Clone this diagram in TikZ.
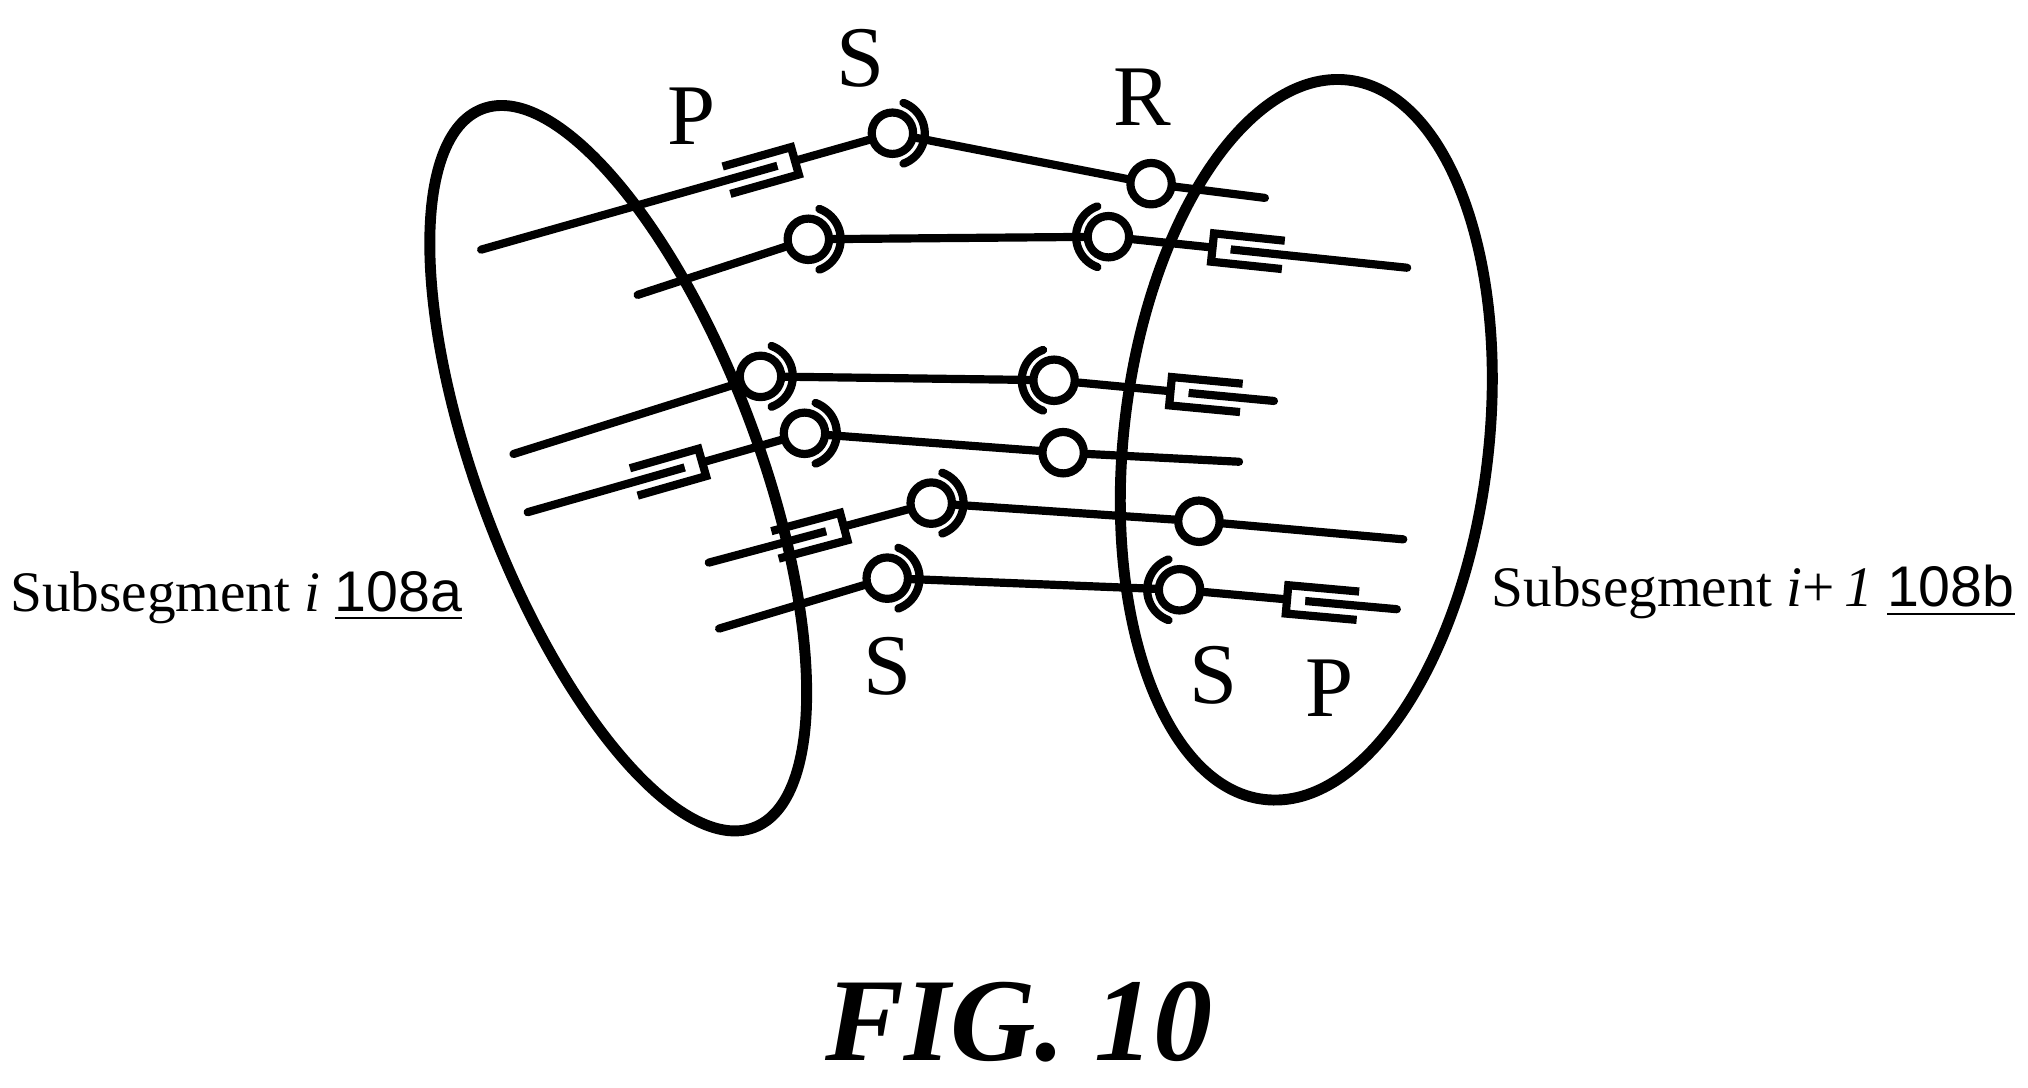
\documentclass[tikz,border=0pt]{standalone}
\usepackage{fontspec}
\setmainfont{Liberation Serif}
\newfontfamily\armfont{Liberation Sans}
\usetikzlibrary{calc}
\newcommand{\lbl}[1]{{\armfont\underline{#1}}}
\tikzset{
  link/.style = {line width=1.8pt, line cap=round},
  joint/.style = {circle, draw, fill=white, line width=1.8pt, minimum size=3.2mm, inner sep=0pt},
  letter/.style = {font=\fontsize{19}{19}\selectfont},
  prism/.pic = {
    \fill[white] (1,-6) rectangle (14,6);
    \draw[link, line cap=butt] (55,11) -- (0,11) -- (0,-11) -- (55,-11);
  }
}
\newcommand{\sockR}[1]{\draw[link] ([shift={(-70:25)}]#1.center) arc (-70:70:25);}
\newcommand{\sockL}[1]{\draw[link] ([shift={(110:25)}]#1.center) arc (110:250:25);}
\begin{document}
\begin{tikzpicture}[x=0.01cm, y=0.01cm]
  \useasboundingbox (0,0) rectangle (1568,-841);
  % segment outlines
  \draw[line width=2.4pt, rotate around={110.7:(478,-362)}] (478,-362) ellipse [x radius=297, y radius=108];
  \draw[line width=2.4pt, rotate around={83.3:(1010,-340)}] (1010,-340) ellipse [x radius=280, y radius=141];
  % joints
  \node[joint] (s1) at (690,-103) {};
  \node[joint] (r1) at (890,-142) {};
  \node[joint] (s2) at (625,-185) {};
  \node[joint] (s3) at (857,-183) {};
  \node[joint] (s4) at (588,-291) {};
  \node[joint] (s5) at (815,-294) {};
  \node[joint] (s6) at (622,-335) {};
  \node[joint] (r2) at (822,-350) {};
  \node[joint] (s7) at (720,-389) {};
  \node[joint] (r3) at (927,-403) {};
  \node[joint] (s8) at (686,-447) {};
  \node[joint] (s9) at (912,-456) {};
  % free ends
  \coordinate (e1) at (372,-193);  \coordinate (f1) at (978,-153);
  \coordinate (e2) at (493,-228);  \coordinate (f2) at (1088,-207);
  \coordinate (e3) at (397,-351);  \coordinate (f3) at (985,-310);
  \coordinate (e4) at (408,-396);  \coordinate (f4) at (958,-357);
  \coordinate (e5) at (548,-435);  \coordinate (f5) at (1085,-417);
  \coordinate (e6) at (556,-486);  \coordinate (f6) at (1080,-471);
  % links
  \draw[link] (s1) -- (e1) pic[pos=.19, sloped, allow upside down]{prism};
  \draw[link] (s1) -- (r1);  \draw[link] (r1) -- (f1);
  \draw[link] (s2) -- (e2);  \draw[link] (s2) -- (s3);
  \draw[link] (s3) -- (f2) pic[pos=.29, sloped, allow upside down]{prism};
  \draw[link] (s4) -- (e3);  \draw[link] (s4) -- (s5);
  \draw[link] (s5) -- (f3) pic[pos=.47, sloped, allow upside down]{prism};
  \draw[link] (s6) -- (e4) pic[pos=.31, sloped, allow upside down]{prism};
  \draw[link] (s6) -- (r2);  \draw[link] (r2) -- (f4);
  \draw[link] (s7) -- (e5) pic[pos=.32, sloped, allow upside down]{prism};
  \draw[link] (s7) -- (r3);  \draw[link] (r3) -- (f5);
  \draw[link] (s8) -- (e6);  \draw[link] (s8) -- (s9);
  \draw[link] (s9) -- (f6) pic[pos=.43, sloped, allow upside down]{prism};
  % sockets
  \sockR{s1} \sockR{s2} \sockL{s3} \sockR{s4} \sockL{s5}
  \sockR{s6} \sockR{s7} \sockR{s8} \sockL{s9}
  % letters
  \node[letter] (lp1) at (535,-90) {P};
  \node[letter] (ls1) at (665,-45) {S};
  \node[letter] (lr1) at (883,-75) {R};
  \node[letter] (ls2) at (686,-515) {S};
  \node[letter] (ls3) at (938,-522) {S};
  \node[letter] (lp2) at (1028,-532) {P};
  \node[font=\fontsize{12.6}{13}\selectfont, anchor=east] (subi) at (370,-462) {Subsegment \textit{i} \lbl{108a}};
  \node[font=\fontsize{12.6}{13}\selectfont, anchor=west] (subj) at (1141,-458) {Subsegment \textit{i}+\,\textit{1} \lbl{108b}};
  \node[font=\fontsize{26}{26}\selectfont\bfseries\itshape] (fig) at (788,-790) {FIG. 10};
\end{tikzpicture}
\end{document}
